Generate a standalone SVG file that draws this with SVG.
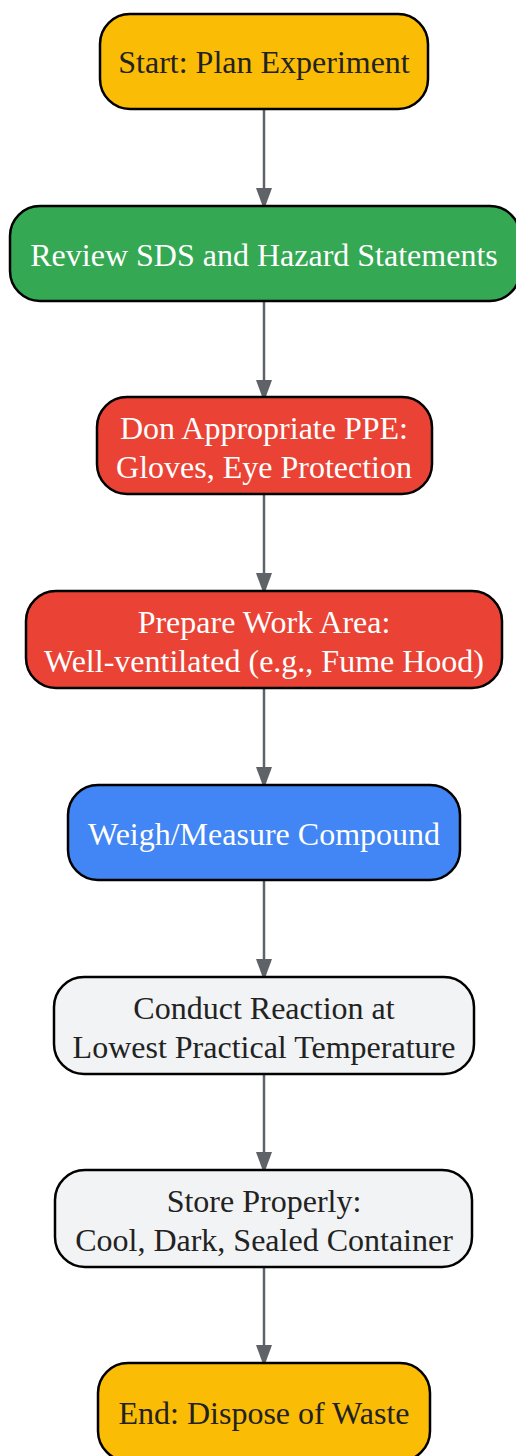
<svg xmlns="http://www.w3.org/2000/svg" width="516" height="1456" viewBox="0 0 516 1456">
<style>
.n{stroke:#000;stroke-width:2.5}
.t{font-family:"Liberation Serif","Times New Roman",serif;font-size:32px;text-anchor:middle}
.d{fill:#222}
.w{fill:#fff}
.e{stroke:#5f6368;stroke-width:2.5;fill:none}
</style>
<defs>
<marker id="a" markerWidth="22" markerHeight="30" refX="22" refY="11" orient="auto" markerUnits="userSpaceOnUse" viewBox="0 0 30 22">
<path d="M0,0 L30,11 L0,22 Z" fill="#5f6368"/>
</marker>
</defs>
<rect width="516" height="1456" fill="#fff"/>
<g id="edges">
<line class="e" x1="264" y1="109" x2="264" y2="204" marker-end="url(#a)"/>
<line class="e" x1="264" y1="301" x2="264" y2="396" marker-end="url(#a)"/>
<line class="e" x1="264" y1="494" x2="264" y2="589" marker-end="url(#a)"/>
<line class="e" x1="264" y1="688" x2="264" y2="783" marker-end="url(#a)"/>
<line class="e" x1="264" y1="880" x2="264" y2="975" marker-end="url(#a)"/>
<line class="e" x1="264" y1="1074" x2="264" y2="1168" marker-end="url(#a)"/>
<line class="e" x1="264" y1="1267" x2="264" y2="1361" marker-end="url(#a)"/>
</g>
<g id="n1"><rect class="n" x="100" y="14" width="328" height="95" rx="30" fill="#fbbc05"/><text class="t d" x="264" y="73">Start: Plan Experiment</text></g>
<g id="n2"><rect class="n" x="10" y="206" width="510" height="95" rx="30" fill="#34a853"/><text class="t w" x="264" y="266">Review SDS and Hazard Statements</text></g>
<g id="n3"><rect class="n" x="97" y="397" width="335" height="97" rx="30" fill="#ea4335"/><text class="t w" x="264" y="439">Don Appropriate PPE:</text><text class="t w" x="264" y="478">Gloves, Eye Protection</text></g>
<g id="n4"><rect class="n" x="26" y="591" width="476" height="97" rx="30" fill="#ea4335"/><text class="t w" x="264" y="633">Prepare Work Area:</text><text class="t w" x="264" y="672">Well-ventilated (e.g., Fume Hood)</text></g>
<g id="n5"><rect class="n" x="68" y="785" width="392" height="95" rx="30" fill="#4285f4"/><text class="t w" x="264" y="845">Weigh/Measure Compound</text></g>
<g id="n6"><rect class="n" x="54" y="977" width="420" height="97" rx="30" fill="#f1f3f4"/><text class="t d" x="264" y="1019">Conduct Reaction at</text><text class="t d" x="264" y="1058">Lowest Practical Temperature</text></g>
<g id="n7"><rect class="n" x="55" y="1170" width="417" height="97" rx="30" fill="#f1f3f4"/><text class="t d" x="264" y="1212">Store Properly:</text><text class="t d" x="264" y="1251">Cool, Dark, Sealed Container</text></g>
<g id="n8"><rect class="n" x="98" y="1363" width="332" height="98" rx="30" fill="#fbbc05"/><text class="t d" x="264" y="1424">End: Dispose of Waste</text></g>
</svg>
